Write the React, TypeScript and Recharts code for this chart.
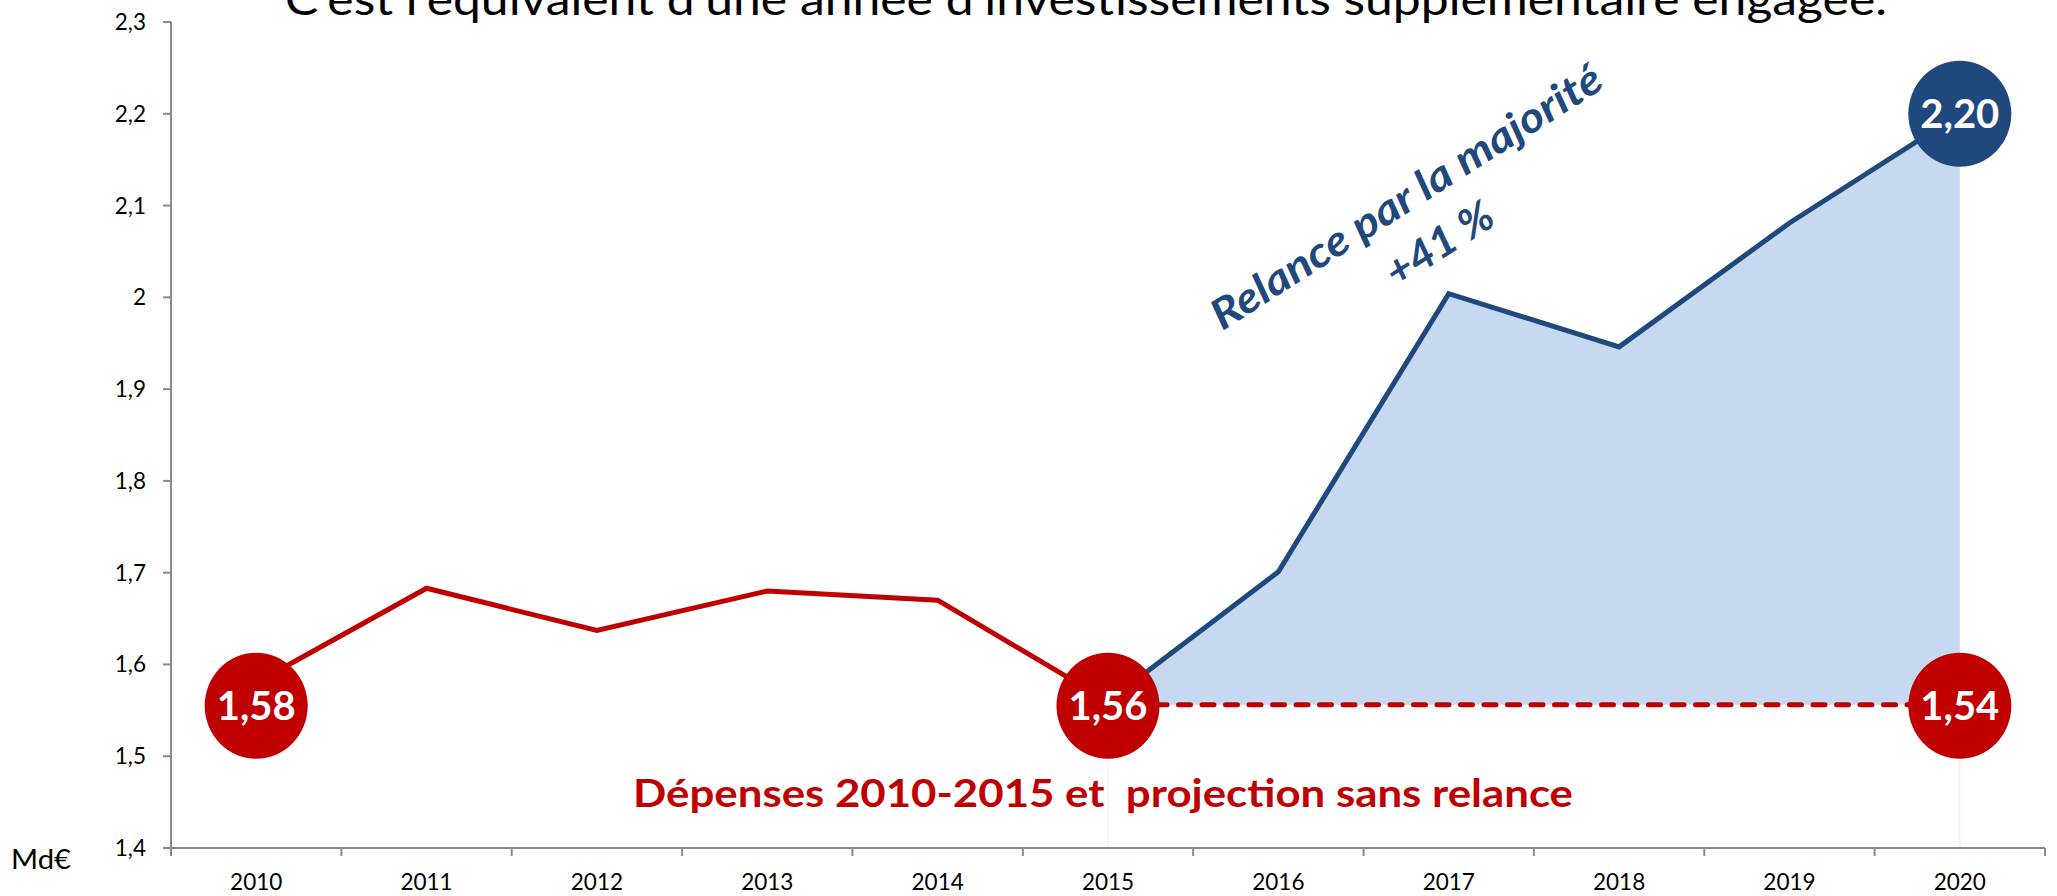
import React from 'react';
import { ComposedChart, Line, Area, XAxis, YAxis, ReferenceLine, Customized } from 'recharts';

// ---------- data ----------
const years = ['2010', '2011', '2012', '2013', '2014', '2015', '2016', '2017', '2018', '2019', '2020'];
const depenses = [1.58, 1.683, 1.637, 1.68, 1.67, 1.56, null, null, null, null, null];
const relance = [null, null, null, null, null, 1.56, 1.701, 2.004, 1.946, 2.081, 2.2];
const projection = [null, null, null, null, null, 1.556, 1.556, 1.556, 1.556, 1.556, 1.556];
const redBubbleLevel = [1.555, null, null, null, null, 1.555, null, null, null, null, 1.555];
const redBubbleLabels = ['1,58', '', '', '', '', '1,56', '', '', '', '', '1,54'];
const blueBubbleLevel = [null, null, null, null, null, null, null, null, null, null, 2.2];
const blueBubbleLabels = ['', '', '', '', '', '', '', '', '', '', '2,20'];
const yTicks = [1.4, 1.5, 1.6, 1.7, 1.8, 1.9, 2, 2.1, 2.2, 2.3];

const TITLE = 'C’est l’équivalent d’une année d’investissements supplémentaire engagée.';
const BOTTOM_TEXT = 'Dépenses 2010-2015 et  projection sans relance';
const CENTER_LINES = ['2,15 Md€', 'd’investissements', 'supplémentaires'];
const ROT_LINES = ['Relance par la majorité', '+41 %'];
const UNIT = 'Md€';

// ---------- style ----------
const FONT = 'Lato, "Open Sans", "DejaVu Sans", sans-serif';
const RED = '#C00000';
const BLUE = '#1F497D';
const FILL = '#C6D9F1';
const AXIS = '#8A8A8A';
const W = 2057;
const H = 896;
const Y_AXIS_W = 171;
const X_AXIS_H = 48;
const M_TOP = 22;
const M_RIGHT = 12;
const HALF = (W - Y_AXIS_W - M_RIGHT) / years.length / 2;

const data = years.map((year, i) => ({
  year,
  depenses: depenses[i],
  relance: relance[i],
  projection: projection[i],
  gap: projection[i] != null && relance[i] != null ? [projection[i], relance[i]] : null,
  redBubble: redBubbleLevel[i],
  redLabel: redBubbleLabels[i],
  blueBubble: blueBubbleLevel[i],
  blueLabel: blueBubbleLabels[i],
}));

const makeBubble = (fill: string, labelKey: string) => (props: any) => {
  const { cx, cy, index, payload, value } = props;
  if (value == null || cx == null || cy == null || Number.isNaN(cy)) {
    return <g key={`bub-${labelKey}-${index}`} />;
  }
  return (
    <g key={`bub-${labelKey}-${index}`}>
      <ellipse cx={cx} cy={cy} rx={51.5} ry={53} fill={fill} />
      <text
        x={cx}
        y={cy}
        dy="0.36em"
        textAnchor="middle"
        fill="#FFFFFF"
        fontSize={40}
        fontWeight={700}
        fontFamily={FONT}
      >
        {payload[labelKey]}
      </text>
    </g>
  );
};

const YearTick = (props: any) => {
  const { x, y, payload, index } = props;
  const last = index === years.length - 1;
  return (
    <g>
      <line x1={x - HALF} x2={x - HALF} y1={y - 8} y2={y} stroke={AXIS} strokeWidth={2} />
      {last && <line x1={x + HALF} x2={x + HALF} y1={y - 8} y2={y} stroke={AXIS} strokeWidth={2} />}
      <text x={x} y={y + 34} textAnchor="middle" fontSize={22.5} fill="#000" fontFamily={FONT}>
        {payload.value}
      </text>
    </g>
  );
};

const Overlay = () => {
  const rot = -32.5;
  return (
    <g fontFamily={FONT}>
      <text x={285} y={15} fontSize={44} fill="#000" textLength={1602} lengthAdjust="spacingAndGlyphs">
        {TITLE}
      </text>
      <text x={11} y={869} fontSize={26} fill="#000" textLength={60} lengthAdjust="spacingAndGlyphs">
        {UNIT}
      </text>
      <text
        x={633}
        y={807}
        fontSize={39}
        fontWeight={700}
        fill={RED}
        textLength={940}
        lengthAdjust="spacingAndGlyphs"
        style={{ whiteSpace: 'pre' }}
      >
        {BOTTOM_TEXT}
      </text>
      <text x={1670} y={472} textAnchor="middle" fontSize={41} fontWeight={700} fill={BLUE} textLength={186} lengthAdjust="spacingAndGlyphs">
        {CENTER_LINES[0]}
      </text>
      <text x={1670} y={527} textAnchor="middle" fontSize={41} fontWeight={700} fill={BLUE} textLength={353} lengthAdjust="spacingAndGlyphs">
        {CENTER_LINES[1]}
      </text>
      <text x={1670} y={585} textAnchor="middle" fontSize={41} fontWeight={700} fill={BLUE} textLength={330} lengthAdjust="spacingAndGlyphs">
        {CENTER_LINES[2]}
      </text>
      <text
        x={1414}
        y={209}
        textAnchor="middle"
        transform={`rotate(${rot} 1414 209)`}
        fontSize={42}
        fontWeight={700}
        fontStyle="italic"
        fill={BLUE}
        textLength={455}
        lengthAdjust="spacingAndGlyphs"
      >
        {ROT_LINES[0]}
      </text>
      <text
        x={1447}
        y={256}
        textAnchor="middle"
        transform={`rotate(${rot} 1447 256)`}
        fontSize={42}
        fontWeight={700}
        fontStyle="italic"
        fill={BLUE}
        textLength={120}
        lengthAdjust="spacingAndGlyphs"
        style={{ whiteSpace: 'pre' }}
      >
        {ROT_LINES[1]}
      </text>
    </g>
  );
};

export default function App() {
  return (
    <div style={{ position: 'absolute', left: 0, top: 0, width: W, height: H, background: '#fff' }}>
      <ComposedChart
        width={W}
        height={H}
        data={data}
        margin={{ top: M_TOP, right: M_RIGHT, bottom: 0, left: 0 }}
      >
        <XAxis
          dataKey="year"
          padding={{ left: HALF, right: HALF }}
          height={X_AXIS_H}
          tickLine={false}
          tickSize={8}
          tickMargin={0}
          axisLine={{ stroke: AXIS, strokeWidth: 2 }}
          tick={(p: any) => <YearTick {...p} />}
          interval={0}
        />
        <YAxis
          width={Y_AXIS_W}
          type="number"
          domain={[1.4, 2.3]}
          ticks={yTicks}
          interval={0}
          tickSize={8}
          tickMargin={17}
          axisLine={{ stroke: AXIS, strokeWidth: 2 }}
          tickLine={{ stroke: AXIS, strokeWidth: 2 }}
          tick={{ fontSize: 22.5, fill: '#000', fontFamily: FONT }}
          tickFormatter={(v: number) => String(v).replace('.', ',')}
        />
        <Area
          dataKey="gap"
          type="linear"
          fill={FILL}
          fillOpacity={1}
          stroke="none"
          dot={false}
          activeDot={false}
          isAnimationActive={false}
        />
        <ReferenceLine
          segment={[{ x: '2015', y: 1.4 }, { x: '2015', y: 1.556 }]}
          stroke="#ECECEC"
          strokeWidth={1}
        />
        <ReferenceLine
          segment={[{ x: '2020', y: 1.4 }, { x: '2020', y: 1.556 }]}
          stroke="#ECECEC"
          strokeWidth={1}
        />
        <Line
          dataKey="depenses"
          type="linear"
          stroke={RED}
          strokeWidth={5}
          dot={false}
          activeDot={false}
          isAnimationActive={false}
        />
        <Line
          dataKey="relance"
          type="linear"
          stroke={BLUE}
          strokeWidth={5}
          dot={false}
          activeDot={false}
          isAnimationActive={false}
        />
        <Line
          dataKey="projection"
          type="linear"
          stroke={RED}
          strokeWidth={5}
          strokeDasharray="12 11.5"
          strokeLinecap="round"
          dot={false}
          activeDot={false}
          isAnimationActive={false}
        />
        <Line
          dataKey="redBubble"
          type="linear"
          stroke="none"
          dot={makeBubble(RED, 'redLabel')}
          activeDot={false}
          isAnimationActive={false}
        />
        <Line
          dataKey="blueBubble"
          type="linear"
          stroke="none"
          dot={makeBubble(BLUE, 'blueLabel')}
          activeDot={false}
          isAnimationActive={false}
        />
        <Customized component={<Overlay />} />
      </ComposedChart>
    </div>
  );
}
